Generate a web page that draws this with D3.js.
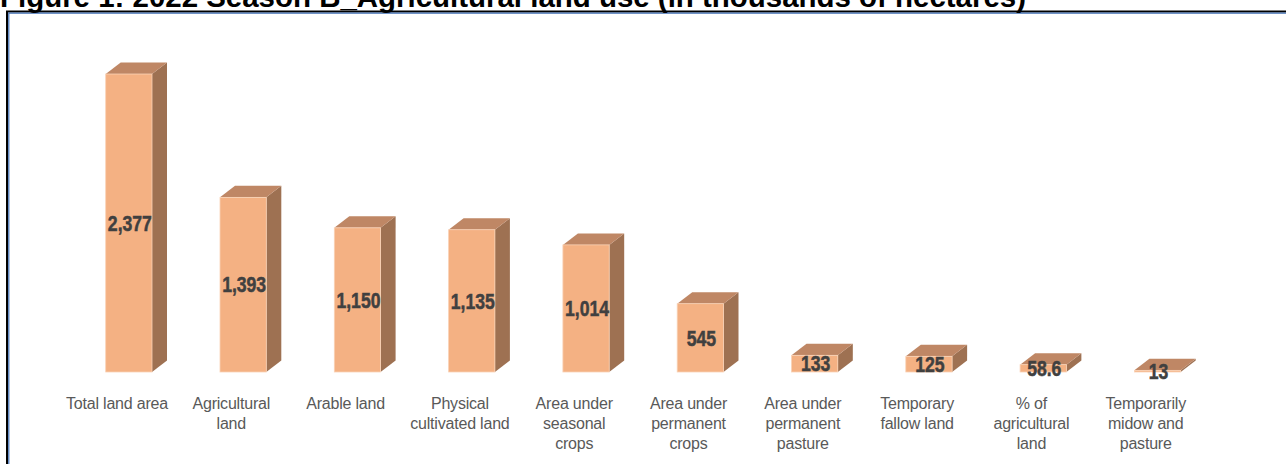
<!DOCTYPE html>
<meta charset="utf-8">
<html>
  <head>
    <title>Agricultural land use</title>
    <style>
      body { margin: 0; background: #fff; overflow: hidden; }
      text.title { font-family: "Liberation Sans", Arial, sans-serif; font-weight: bold; font-size: 29px; fill: #000; }
      text.cat { font-family: "Liberation Sans", Arial, sans-serif; font-size: 16px; fill: #595959; letter-spacing: -0.2px; }
      text.val { font-family: "Liberation Sans", Arial, sans-serif; font-weight: bold; font-size: 22px; fill: #404040; stroke: #404040; stroke-width: 0.5px; }
    </style>
    <script src="https://cdn.jsdelivr.net/npm/d3@7"></script>
  </head>
  <body>
    <div id="chart"></div>
    <script>
    // data (thousands of hectares)
    var categories = ["Total land area", "Agricultural\nland", "Arable land", "Physical\ncultivated land",
      "Area under\nseasonal\ncrops", "Area under\npermanent\ncrops", "Area under\npermanent\npasture",
      "Temporary\nfallow land", "% of\nagricultural\nland", "Temporarily\nmidow and\npasture"];
    var values = [2377, 1393, 1150, 1135, 1014, 545, 133, 125, 58.6, 13];
    var titleText = "Figure 1: 2022 Season B_Agricultural land use (in thousands of hectares)";

    var W = 1286, H = 464;
    var depthX = 15, depthY = 11.5;
    var barW = 46.3, barShift = -11.3;

    var svg = d3.select("#chart").append("svg")
      .attr("width", W)
      .attr("height", H);

    // frame (black + thin blue inner line)
    svg.append("path")
      .attr("d", "M7,464 V11.5 H1286")
      .attr("fill", "none").attr("stroke", "#000").attr("stroke-width", 2);
    svg.append("path")
      .attr("d", "M8.8,464 V13.2 H1286")
      .attr("fill", "none").attr("stroke", "#3f6fb5").attr("stroke-width", 1.2);

    svg.append("text")
      .attr("class", "title")
      .attr("x", 0)
      .attr("y", 7)
      .attr("textLength", 1026)
      .attr("lengthAdjust", "spacingAndGlyphs")
      .text(titleText);

    var x = d3.scaleBand()
      .domain(categories)
      .range([59.85, 1202.85])
      .padding(0);

    var y = d3.scaleLinear()
      .domain([0, 2500])
      .range([372, 58.6]);

    var fmt = d3.format(",");

    var bars = svg.selectAll(".bar")
      .data(values)
      .enter()
      .append("g")
      .attr("class", "bar");

    function left(d, i) { return x(categories[i]) + x.bandwidth() / 2 + barShift; }

    // side face
    bars.append("path")
      .attr("fill", "#9e7152")
      .attr("d", function(d, i) {
        var x0 = left(d, i) + barW, yt = y(d), yb = y(0);
        return "M" + x0 + "," + yt + " L" + (x0 + depthX) + "," + (yt - depthY) +
          " L" + (x0 + depthX) + "," + (yb - depthY) + " L" + x0 + "," + yb + "Z";
      });

    // top face
    bars.append("path")
      .attr("fill", "#bf8765")
      .attr("d", function(d, i) {
        var x0 = left(d, i), yt = y(d);
        return "M" + x0 + "," + yt + " L" + (x0 + depthX) + "," + (yt - depthY) +
          " L" + (x0 + barW + depthX) + "," + (yt - depthY) + " L" + (x0 + barW) + "," + yt + "Z";
      });

    // front face
    bars.append("rect")
      .attr("x", function(d, i) { return left(d, i); })
      .attr("y", function(d) { return y(d); })
      .attr("width", barW)
      .attr("height", function(d) { return y(0) - y(d); })
      .attr("fill", "#f4b183")
      .attr("stroke", "#f9d2b6")
      .attr("stroke-width", 0.8);

    // value labels, squeezed to look like a condensed bold face
    bars.append("text")
      .attr("class", "val")
      .attr("text-anchor", "middle")
      .attr("dominant-baseline", "central")
      .attr("transform", function(d, i) {
        return "translate(" + (left(d, i) + barW / 2 + 1) + "," + ((y(d) + y(0)) / 2) + ") scale(0.8,1)";
      })
      .text(function(d) { return fmt(d); });

    // category labels
    var cats = svg.selectAll(".cat")
      .data(categories)
      .enter()
      .append("text")
      .attr("class", "cat")
      .attr("text-anchor", "middle")
      .attr("x", function(d) { return x(d) + x.bandwidth() / 2; })
      .attr("y", 409);

    cats.selectAll("tspan")
      .data(function(d) { return d.split("\n"); })
      .enter()
      .append("tspan")
      .attr("x", function() { return d3.select(this.parentNode).attr("x"); })
      .attr("dy", function(d, i) { return i === 0 ? 0 : 20; })
      .text(function(d) { return d; });
    </script>
  </body>
</html>
